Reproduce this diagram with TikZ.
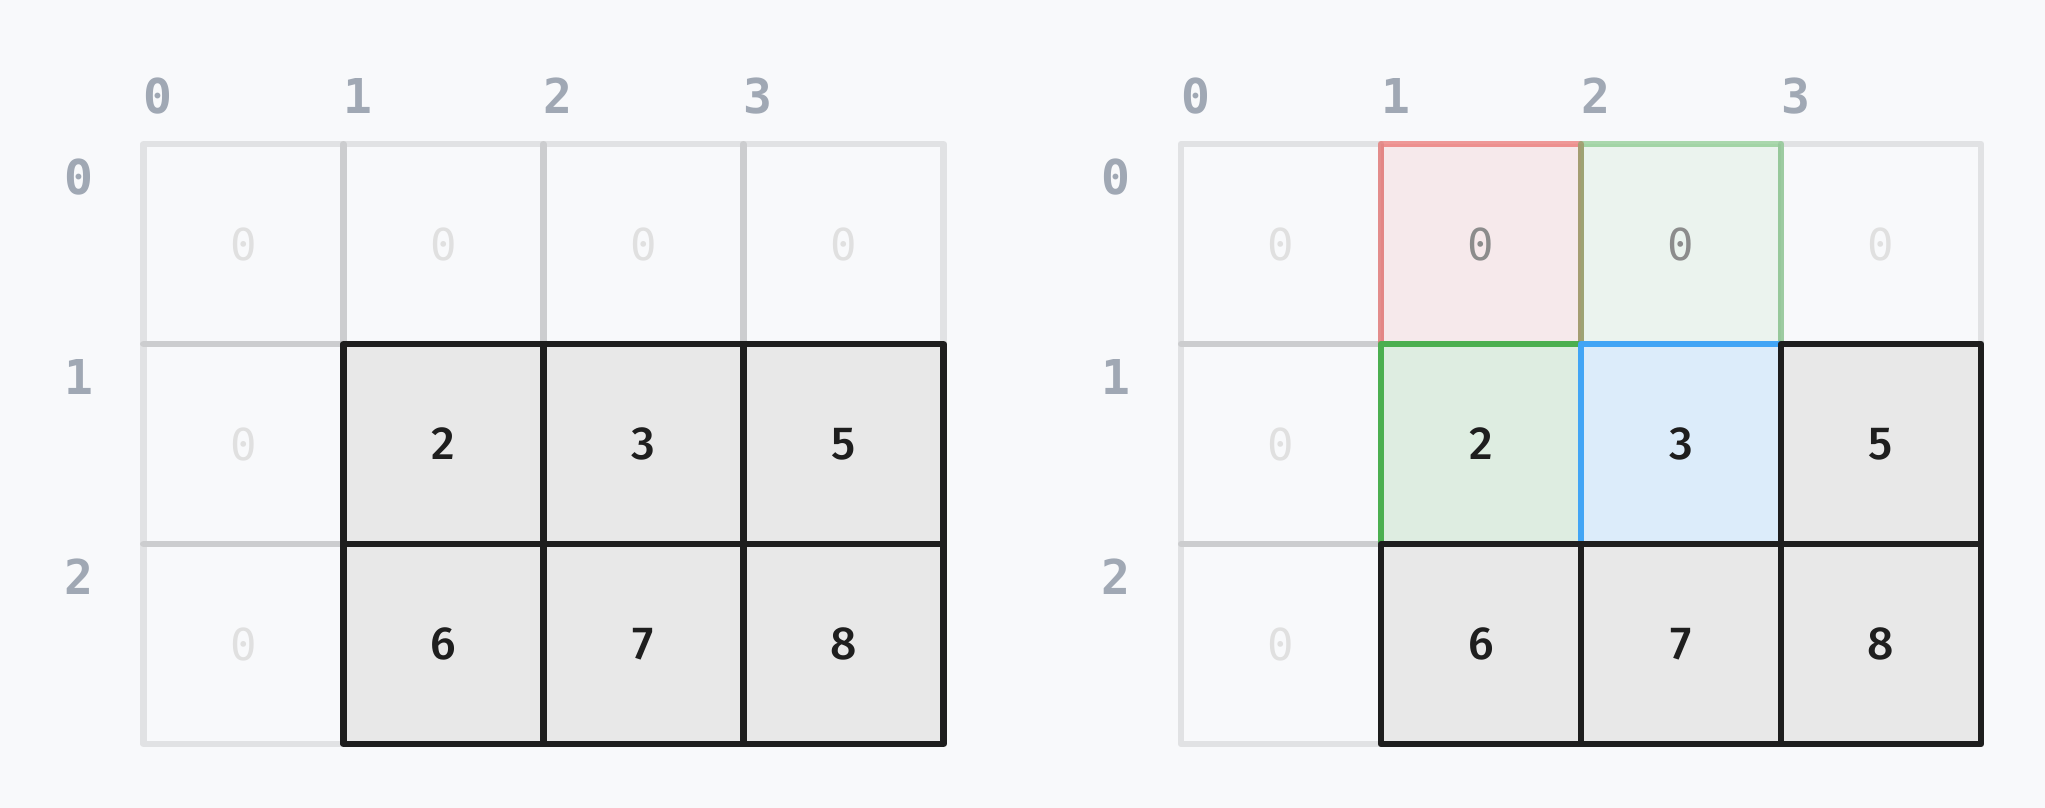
\documentclass[tikz,border=0pt]{standalone}
\usepackage{fontspec}
\newfontfamily\labfont{DejaVu Sans Mono}
\newfontfamily\numfont{Fira Sans}[UprightFont={* Medium}]
\definecolor{bg}{HTML}{F8F9FB}
\definecolor{ink}{HTML}{1E1E1E}
\definecolor{actfill}{HTML}{E8E8E8}
\definecolor{labc}{HTML}{A0A8B4}
\definecolor{zerotxt}{HTML}{E0E0E0}
\definecolor{midzero}{HTML}{8C8C8C}
\definecolor{redc}{HTML}{E53935}
\definecolor{greenc}{HTML}{4CAF50}
\definecolor{bluec}{HTML}{42A5F5}
\tikzset{
  cell/.style={minimum size=100pt, inner sep=0pt, outer sep=0pt, line width=3.3pt, line join=round, text opacity=1},
  zcell/.style={cell, draw=black, draw opacity=0.09, text=zerotxt, font=\labfont\fontsize{22pt}{24pt}\selectfont},
  actcell/.style={cell, draw=ink, fill=actfill, text=ink, font=\numfont\fontsize{23.2pt}{26pt}\selectfont},
  redcell/.style={cell, draw=redc, draw opacity=0.5, fill=redc, fill opacity=0.08, text=midzero, font=\labfont\fontsize{22pt}{24pt}\selectfont},
  glcell/.style={cell, draw=greenc, draw opacity=0.45, fill=greenc, fill opacity=0.07, text=midzero, font=\labfont\fontsize{22pt}{24pt}\selectfont},
  gcell/.style={cell, draw=greenc, fill=greenc, fill opacity=0.15, text=ink, font=\numfont\fontsize{23.2pt}{26pt}\selectfont},
  bcell/.style={cell, draw=bluec, fill=bluec, fill opacity=0.15, text=ink, font=\numfont\fontsize{23.2pt}{26pt}\selectfont},
  axlab/.style={anchor=base, inner sep=0pt, text=labc, font=\labfont\bfseries\fontsize{24pt}{26pt}\selectfont},
}
\begin{document}
\begin{tikzpicture}[x=0.5pt, y=-0.5pt]
\fill[bg] (0,0) rectangle (2045,808);
\useasboundingbox (0,0) rectangle (2045,808);
% ---------- left grid ----------
\foreach \c in {0,...,3} \node[axlab] (Lcol\c) at (158+200*\c,113) {\c};
\foreach \r in {0,...,2} \node[axlab] (Lrow\r) at (78.5,194+200*\r) {\r};
\foreach \r/\c in {0/0,0/1,0/2,0/3,1/0,2/0}
  \node[zcell] (L-\r-\c) at (243.5+200*\c,244+200*\r) {0};
\foreach \r/\c/\v in {1/1/2,1/2/3,1/3/5,2/1/6,2/2/7,2/3/8}
  \node[actcell] (L-\r-\c) at (243.5+200*\c,244+200*\r) {\v};
% ---------- right grid ----------
\foreach \c in {0,...,3} \node[axlab] (Rcol\c) at (1195.5+200*\c,113) {\c};
\foreach \r in {0,...,2} \node[axlab] (Rrow\r) at (1116,194+200*\r) {\r};
\foreach \r/\c in {0/0,0/3,1/0,2/0}
  \node[zcell] (R-\r-\c) at (1281+200*\c,244+200*\r) {0};
\node[redcell] (R-0-1) at (1481,244) {0};
\node[glcell] (R-0-2) at (1681,244) {0};
\node[gcell] (R-1-1) at (1481,444) {2};
\node[bcell] (R-1-2) at (1681,444) {3};
\foreach \r/\c/\v in {1/3/5,2/1/6,2/2/7,2/3/8}
  \node[actcell] (R-\r-\c) at (1281+200*\c,244+200*\r) {\v};
\end{tikzpicture}
\end{document}
